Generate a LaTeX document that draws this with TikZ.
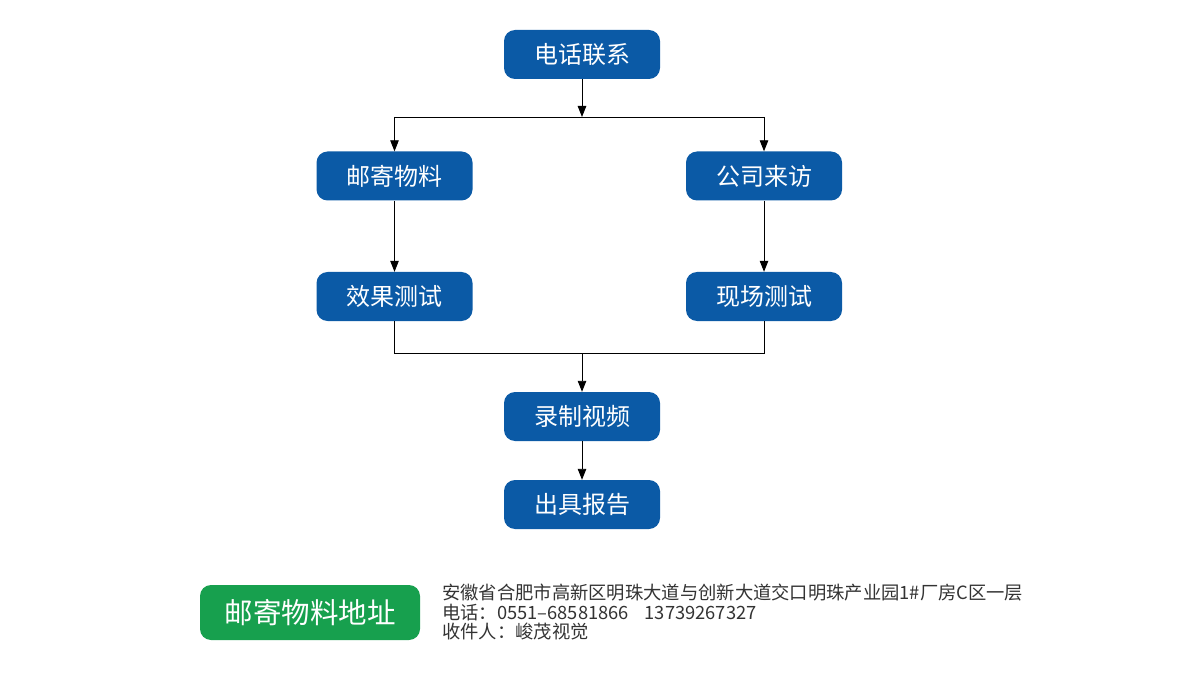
\documentclass[tikz,border=0pt]{standalone}
\usepackage{fontspec}
\setmainfont{Noto Sans CJK SC}
\usetikzlibrary{arrows.meta}
\definecolor{boxblue}{HTML}{0B5AA6}
\definecolor{boxgreen}{HTML}{17A04E}
\definecolor{txtgray}{HTML}{333333}
\begin{document}
\begin{tikzpicture}[x=1pt,y=-1pt,
  stepbox/.style={fill=boxblue,rounded corners=11pt,minimum width=156pt,minimum height=49pt,text=white,font=\fontsize{24}{28}\selectfont,inner sep=0pt},
  arr/.style={draw=black,line width=0.9pt,-{Triangle[length=11pt,width=8.5pt]}},
  ln/.style={draw=black,line width=0.9pt}]
\useasboundingbox (0,0) rectangle (1200,679);
\node[stepbox] (tel) at (582,54.5) {电话联系};
\node[stepbox] (mail) at (394.5,176) {邮寄物料};
\node[stepbox] (visit) at (764,176) {公司来访};
\node[stepbox] (effect) at (394.5,296.5) {效果测试};
\node[stepbox] (field) at (764,296.5) {现场测试};
\node[stepbox] (video) at (582,416.5) {录制视频};
\node[stepbox] (report) at (582,504.5) {出具报告};
\coordinate (split) at (582,117);
\coordinate (join) at (582,353);
\draw[arr] (tel.south) -- (split);
\draw[ln] (split -| mail) -- (split -| visit);
\draw[arr] (split -| mail) -- (mail.north);
\draw[arr] (split -| visit) -- (visit.north);
\draw[arr] (mail) -- (effect);
\draw[arr] (visit) -- (field);
\draw[ln] (effect.south) -- (join -| effect) -- (join -| field) -- (field.south);
\draw[arr] (join) -- (video.north);
\draw[arr] (video) -- (report);
\node[fill=boxgreen,rounded corners=11pt,minimum width=220pt,minimum height=55pt,text=white,font=\fontsize{28.5}{32}\selectfont,inner sep=0pt] (addrbox) at (310,612.5) {邮寄物料地址};
\node[anchor=west,text=txtgray,font=\fontsize{18.3}{19.6}\selectfont,align=left,inner sep=0pt] (addr) at (442,612) {安徽省合肥市高新区明珠大道与创新大道交口明珠产业园1\#厂房C区一层\\电话：0551–68581866\hspace{16pt}13739267327\\收件人：峻茂视觉};
\end{tikzpicture}
\end{document}
